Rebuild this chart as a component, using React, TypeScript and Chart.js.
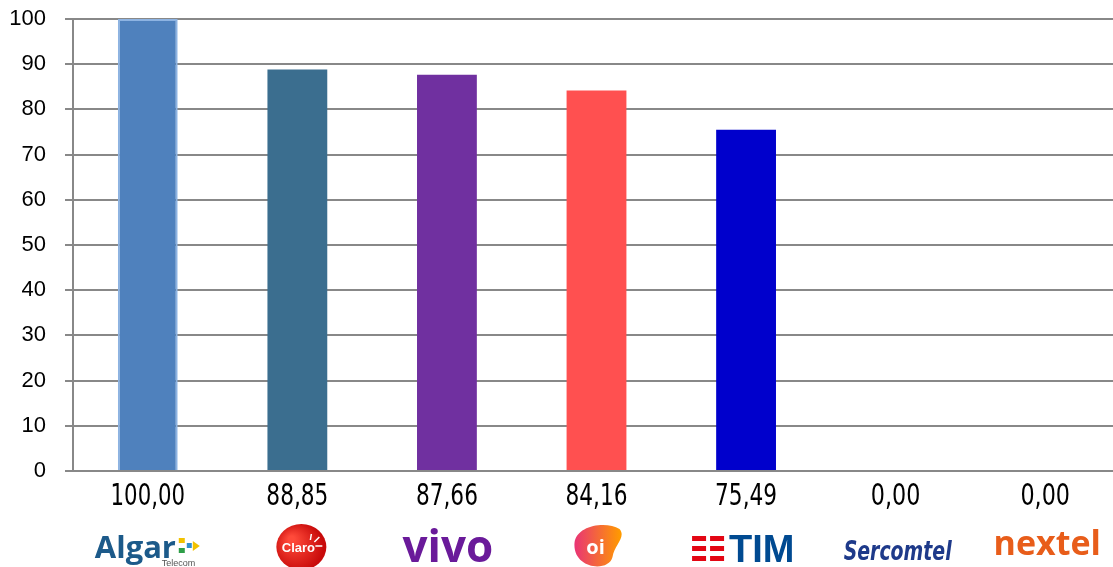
import React, { useEffect, useRef } from "react";
import { Chart, registerables } from "chart.js";

Chart.register(...registerables);

const categories = ["Algar Telecom", "Claro", "Vivo", "Oi", "TIM", "Sercomtel", "Nextel"];
const values = [100, 88.85, 87.66, 84.16, 75.49, 0, 0];
const barColors = ["#4f81bd", "#3b6e8f", "#7030a0", "#ff5050", "#0000cc", "#000000", "#000000"];
const barBorders = ["#8db3e2", "#3b6e8f", "#7030a0", "#ff5050", "#0000cc", "#000000", "#000000"];
const barBorderWidths = [2, 0, 0, 0, 0, 0, 0];
const yTicks = [0, 10, 20, 30, 40, 50, 60, 70, 80, 90, 100];

const fmt = (v: number) => v.toFixed(2).replace(".", ",");

function fitText(ctx: CanvasRenderingContext2D, text: string, cx: number, y: number, width: number) {
  const w = ctx.measureText(text).width;
  const k = Math.min(1, width / w);
  ctx.save();
  ctx.translate(cx, y);
  ctx.scale(k, 1);
  ctx.textAlign = "center";
  ctx.fillText(text, 0, 0);
  ctx.restore();
}

function drawLogo(ctx: CanvasRenderingContext2D, name: string, cx: number, cy: number) {
  ctx.save();
  ctx.textBaseline = "alphabetic";
  ctx.textAlign = "center";
  if (name === "Algar Telecom") {
    ctx.fillStyle = "#1c5a8a";
    ctx.font = "bold 31px 'Open Sans'";
    ctx.textAlign = "left";
    ctx.fillText("Algar", cx - 53, cy + 11);
    const ax = cx + 31;
    ctx.fillStyle = "#f2c200";
    ctx.fillRect(ax, cy - 9, 6, 5);
    ctx.fillStyle = "#2e9e48";
    ctx.fillRect(ax, cy + 1, 6, 5);
    ctx.fillStyle = "#2f8fd0";
    ctx.fillRect(ax + 8, cy - 4, 5, 5);
    ctx.fillStyle = "#f2c200";
    ctx.beginPath();
    ctx.moveTo(ax + 14, cy - 6);
    ctx.lineTo(ax + 21, cy - 1);
    ctx.lineTo(ax + 14, cy + 4);
    ctx.closePath();
    ctx.fill();
    ctx.fillStyle = "#555555";
    ctx.font = "9px 'Liberation Sans'";
    ctx.textAlign = "left";
    ctx.fillText("Telecom", cx + 14, cy + 19);
  } else if (name === "Claro") {
    const g = ctx.createRadialGradient(cx - 6, cy - 8, 3, cx, cy, 26);
    g.addColorStop(0, "#ff4a3a");
    g.addColorStop(1, "#c80a0a");
    ctx.fillStyle = g;
    ctx.beginPath();
    ctx.ellipse(cx + 4, cy, 25, 23, 0, 0, Math.PI * 2);
    ctx.fill();
    ctx.fillStyle = "#ffffff";
    ctx.font = "bold 13px 'Liberation Sans'";
    ctx.fillText("Claro", cx + 1, cy + 5);
    ctx.strokeStyle = "#ffffff";
    ctx.lineWidth = 1.5;
    ctx.beginPath();
    ctx.moveTo(cx + 18, cy - 1);
    ctx.lineTo(cx + 25, cy - 1);
    ctx.moveTo(cx + 17, cy - 5);
    ctx.lineTo(cx + 22, cy - 10);
    ctx.moveTo(cx + 13, cy - 7);
    ctx.lineTo(cx + 14, cy - 13);
    ctx.stroke();
  } else if (name === "Vivo") {
    ctx.fillStyle = "#6a1a9a";
    ctx.font = "bold 44px 'Open Sans'";
    ctx.fillText("vivo", cx + 1, cy + 15);
  } else if (name === "Oi") {
    const g = ctx.createLinearGradient(cx - 24, cy, cx + 24, cy);
    g.addColorStop(0, "#e8307a");
    g.addColorStop(1, "#ff9a00");
    ctx.fillStyle = g;
    ctx.beginPath();
    ctx.moveTo(cx - 22, cy - 4);
    ctx.bezierCurveTo(cx - 20, cy - 22, cx + 10, cy - 26, cx + 23, cy - 18);
    ctx.bezierCurveTo(cx + 30, cy - 10, cx + 18, cy - 2, cx + 16, cy + 10);
    ctx.bezierCurveTo(cx + 12, cy + 26, cx - 24, cy + 22, cx - 22, cy - 4);
    ctx.closePath();
    ctx.fill();
    ctx.fillStyle = "#ffffff";
    ctx.font = "bold 20px 'Open Sans'";
    ctx.fillText("oi", cx - 1, cy + 7);
  } else if (name === "TIM") {
    const sx = cx - 54;
    ctx.fillStyle = "#e30613";
    const rows = [cy - 11, cy - 1, cy + 9];
    rows.forEach((ry) => {
      ctx.fillRect(sx, ry, 14, 5);
      ctx.fillRect(sx + 18, ry, 14, 5);
    });
    ctx.fillStyle = "#004a91";
    ctx.font = "bold 38px 'Liberation Sans'";
    ctx.textAlign = "left";
    ctx.fillText("TIM", sx + 37, cy + 15);
  } else if (name === "Sercomtel") {
    ctx.fillStyle = "#1e3a8a";
    ctx.font = "oblique bold 27px 'DejaVu Sans Condensed', 'DejaVu Sans'";
    fitText(ctx, "Sercomtel", cx + 2, cy + 13, 108);
  } else if (name === "Nextel") {
    ctx.fillStyle = "#e85d1a";
    ctx.font = "bold 34px 'Open Sans'";
    ctx.fillText("nextel", cx + 2, cy + 8);
  }
  ctx.restore();
}

const labelsPlugin = {
  id: "bottomLabels",
  afterDraw(chart: any) {
    const ctx = chart.ctx as CanvasRenderingContext2D;
    const xs = chart.scales.x;
    ctx.save();
    categories.forEach((name, i) => {
      const cx = xs.getPixelForValue(i);
      ctx.fillStyle = "#000000";
      ctx.font = "30px 'DejaVu Sans Condensed', 'DejaVu Sans', sans-serif";
      ctx.textBaseline = "middle";
      const t = fmt(values[i]);
      fitText(ctx, t, cx, 497, t.length * 12.4);
      drawLogo(ctx, name, cx, 547);
    });
    ctx.restore();
  },
};

export default function App() {
  const ref = useRef<HTMLCanvasElement>(null);
  useEffect(() => {
    if (!ref.current) return;
    const chart = new Chart(ref.current, {
      type: "bar",
      data: {
        labels: categories,
        datasets: [
          {
            data: values,
            backgroundColor: barColors,
            borderColor: barBorders,
            borderWidth: barBorderWidths,
            barPercentage: 0.4,
            categoryPercentage: 1,
          },
        ],
      },
      options: {
        animation: false,
        responsive: false,
        maintainAspectRatio: false,
        layout: { padding: { top: 19, bottom: 96, left: 0, right: 0 } },
        plugins: { legend: { display: false }, tooltip: { enabled: false } },
        scales: {
          x: {
            ticks: { display: false },
            grid: { display: false, drawTicks: false },
            border: { display: false },
          },
          y: {
            min: 0,
            max: 100,
            afterFit: (s: any) => {
              s.width = 73;
              s.paddingTop = 0;
              s.paddingBottom = 0;
            },
            afterBuildTicks: (s: any) => {
              s.ticks = yTicks.map((v) => ({ value: v }));
            },
            ticks: {
              color: "#000000",
              font: { family: "'Liberation Sans', Arial, sans-serif", size: 22 },
              padding: 19,
            },
            grid: { color: "#888888", lineWidth: 2, tickLength: 8, drawTicks: true },
            border: { display: true, color: "#888888", width: 2 },
          },
        },
      },
      plugins: [labelsPlugin],
    });
    return () => chart.destroy();
  }, []);
  return (
    <div style={{ position: "fixed", left: 0, top: 0, width: 1113, height: 567, overflow: "hidden", background: "#ffffff" }}>
      <canvas ref={ref} width={1120} height={567} style={{ display: "block" }} />
    </div>
  );
}
